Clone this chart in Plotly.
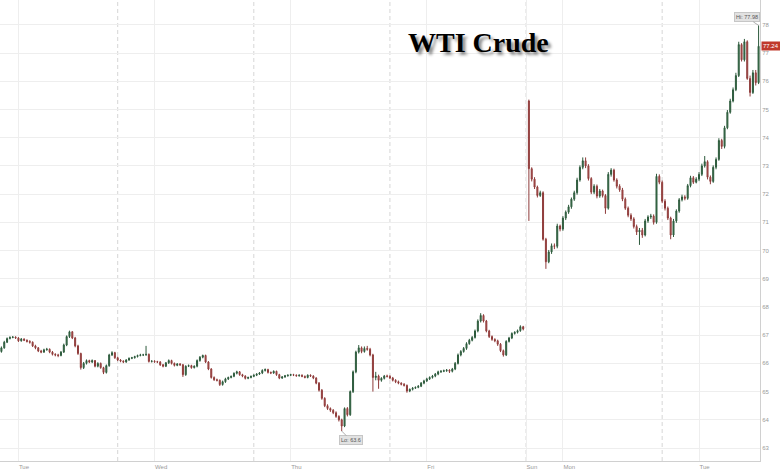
import pandas as pd
import plotly.graph_objects as go

# ---- data: 30-minute candles, session 1 (Mon 21:00 -> Fri 17:00) ----
s1_start = "2025-06-09 21:00"
s1_open = [
    66.42,66.55,66.75,66.88,66.92,66.93,66.90,66.80,66.86,66.82,
    66.78,66.75,66.62,66.55,66.44,66.40,66.48,66.50,66.40,66.32,
    66.30,66.28,66.40,66.65,66.95,67.12,66.90,66.62,66.35,65.85,
    66.00,66.10,66.05,66.10,65.90,66.00,65.85,65.68,65.92,66.30,
    66.38,66.20,66.12,66.08,66.05,66.12,66.18,66.20,66.24,66.28,
    66.30,66.30,66.32,66.07,66.08,66.06,66.05,65.95,65.90,66.02,
    66.10,66.00,65.93,65.98,65.95,65.60,65.90,65.92,65.85,65.90,
    66.10,66.22,66.28,66.05,65.80,65.50,65.42,65.40,65.25,65.35,
    65.45,65.50,65.54,65.65,65.70,65.60,65.55,65.47,65.50,65.54,
    65.58,65.62,65.66,65.75,65.78,65.68,65.66,65.72,65.60,65.48,
    65.52,65.56,65.58,65.60,65.58,65.56,65.58,65.54,65.50,65.58,
    65.55,65.48,65.30,65.05,64.76,64.50,64.40,64.34,64.25,64.12,
    64.00,63.78,64.40,64.18,65.00,65.70,66.40,66.55,66.42,66.53,
    66.50,66.30,65.50,65.55,65.40,65.47,65.55,65.54,65.48,65.40,
    65.35,65.30,65.26,65.22,65.02,65.08,65.12,65.15,65.19,65.30,
    65.38,65.45,65.50,65.55,65.62,65.70,65.72,65.74,65.76,65.72,
    65.80,66.00,66.30,66.42,66.53,66.70,66.82,66.92,67.15,67.50,
    67.70,67.50,67.15,66.95,66.85,66.80,66.68,66.45,66.30,66.78,
    66.90,67.06,67.10,67.16,67.30]
s1_high = [
    66.60,66.80,66.92,66.96,66.97,66.96,66.93,66.90,66.89,66.85,
    66.82,66.78,66.66,66.58,66.48,66.52,66.55,66.53,66.44,66.36,
    66.34,66.44,66.70,66.99,67.16,67.14,66.94,66.66,66.38,66.05,
    66.14,66.13,66.14,66.12,66.04,66.03,65.88,65.96,66.34,66.43,
    66.41,66.24,66.15,66.11,66.15,66.21,66.23,66.27,66.31,66.34,
    66.34,66.62,66.35,66.11,66.11,66.09,66.08,65.98,66.05,66.14,
    66.13,66.03,66.01,66.01,65.98,65.93,65.96,65.95,65.93,66.14,
    66.26,66.31,66.31,66.08,65.83,65.54,65.46,65.43,65.39,65.49,
    65.53,65.57,65.68,65.74,65.73,65.63,65.58,65.53,65.57,65.61,
    65.65,65.69,65.79,65.82,65.81,65.71,65.75,65.74,65.63,65.55,
    65.59,65.61,65.63,65.63,65.61,65.61,65.61,65.57,65.61,65.61,
    65.58,65.51,65.34,65.09,64.80,64.55,64.44,64.38,64.30,64.16,
    64.04,64.44,64.45,65.04,65.75,66.45,66.65,66.60,66.60,66.62,
    66.55,66.34,65.70,65.60,65.51,65.59,65.60,65.58,65.52,65.44,
    65.39,65.33,65.30,65.25,65.11,65.16,65.18,65.23,65.34,65.42,
    65.49,65.54,65.59,65.66,65.74,65.76,65.78,65.80,65.79,65.84,
    66.05,66.35,66.47,66.58,66.75,66.87,66.97,67.20,67.56,67.78,
    67.74,67.54,67.19,66.99,66.89,66.84,66.72,66.49,66.82,66.94,
    67.10,67.14,67.20,67.35,67.33]
s1_low = [
    66.38,66.52,66.72,66.85,66.89,66.87,66.76,66.77,66.79,66.74,
    66.70,66.58,66.50,66.40,66.36,66.37,66.45,66.36,66.28,66.25,
    66.22,66.25,66.37,66.61,66.90,66.86,66.57,66.30,65.78,65.80,
    65.96,66.01,66.01,65.86,65.86,65.81,65.62,65.64,65.88,66.26,
    66.16,66.08,66.04,66.01,66.02,66.09,66.15,66.17,66.21,66.25,
    66.26,66.27,66.03,66.03,66.02,66.01,65.91,65.86,65.87,65.98,
    65.96,65.89,65.90,65.91,65.52,65.56,65.87,65.81,65.82,65.86,
    66.06,66.18,66.01,65.76,65.46,65.38,65.36,65.20,65.21,65.31,
    65.41,65.47,65.51,65.61,65.56,65.51,65.43,65.44,65.47,65.51,
    65.55,65.59,65.62,65.71,65.64,65.62,65.63,65.56,65.44,65.45,
    65.49,65.53,65.55,65.55,65.53,65.53,65.51,65.47,65.47,65.52,
    65.44,65.26,65.00,64.71,64.45,64.35,64.28,64.20,64.07,63.94,
    63.60,63.74,64.12,64.14,64.95,65.65,66.35,66.36,66.38,66.45,
    66.25,65.00,65.40,65.10,65.35,65.43,65.50,65.44,65.36,65.30,
    65.26,65.22,65.18,64.96,64.98,65.04,65.10,65.12,65.16,65.26,
    65.34,65.41,65.46,65.51,65.58,65.66,65.69,65.70,65.66,65.68,
    65.76,65.96,66.25,66.38,66.48,66.66,66.78,66.88,67.10,67.45,
    67.45,67.10,66.90,66.80,66.75,66.62,66.40,66.24,66.26,66.74,
    66.86,67.02,67.06,67.12,67.17]
s1_close = [
    66.55,66.75,66.88,66.92,66.93,66.90,66.80,66.86,66.82,66.78,
    66.75,66.62,66.55,66.44,66.40,66.48,66.50,66.40,66.32,66.30,
    66.28,66.40,66.65,66.95,67.12,66.90,66.62,66.35,65.85,66.00,
    66.10,66.05,66.10,65.90,66.00,65.85,65.68,65.92,66.30,66.38,
    66.20,66.12,66.08,66.05,66.12,66.18,66.20,66.24,66.28,66.30,
    66.30,66.32,66.07,66.08,66.06,66.05,65.95,65.90,66.02,66.10,
    66.00,65.93,65.98,65.95,65.60,65.90,65.92,65.85,65.90,66.10,
    66.22,66.28,66.05,65.80,65.50,65.42,65.40,65.25,65.35,65.45,
    65.50,65.54,65.65,65.70,65.60,65.55,65.47,65.50,65.54,65.58,
    65.62,65.66,65.75,65.78,65.68,65.66,65.72,65.60,65.48,65.52,
    65.56,65.58,65.60,65.58,65.56,65.58,65.54,65.50,65.58,65.55,
    65.48,65.30,65.05,64.76,64.50,64.40,64.34,64.25,64.12,64.00,
    63.78,64.40,64.18,65.00,65.70,66.40,66.55,66.42,66.53,66.50,
    66.30,65.50,65.55,65.40,65.47,65.55,65.54,65.48,65.40,65.35,
    65.30,65.26,65.22,65.02,65.08,65.12,65.15,65.19,65.30,65.38,
    65.45,65.50,65.55,65.62,65.70,65.72,65.74,65.76,65.72,65.80,
    66.00,66.30,66.42,66.53,66.70,66.82,66.92,67.15,67.50,67.70,
    67.50,67.15,66.95,66.85,66.80,66.68,66.45,66.30,66.78,66.90,
    67.06,67.10,67.16,67.30,67.22]

# ---- session 2 (Sun 18:00 -> Tue 10:30) ----
s2_start = "2025-06-15 18:00"
s2_open = [
    75.30,72.90,72.53,72.25,71.95,72.05,70.40,69.60,69.95,70.17,
    70.15,70.87,70.76,71.15,71.36,71.55,71.82,72.05,72.50,72.95,
    73.18,73.00,72.55,72.07,72.28,71.93,72.11,71.95,71.50,72.70,
    72.85,72.50,72.28,72.15,71.82,71.50,71.25,71.12,70.85,70.66,
    70.72,70.55,71.05,71.19,71.22,71.00,72.63,72.42,71.75,71.50,
    71.15,70.55,71.05,71.40,71.80,71.90,71.85,72.30,72.58,72.42,
    72.53,72.70,73.00,73.15,72.60,72.45,72.95,73.23,73.90,73.69,
    74.35,74.90,75.30,75.70,76.20,77.30,76.76,77.40,76.10,75.60,76.30,75.95]
s2_high = [
    75.35,72.95,72.60,72.30,72.12,72.10,70.45,70.02,70.25,70.25,
    70.95,70.92,71.22,71.42,71.62,71.88,72.12,72.58,73.02,73.30,
    73.30,73.06,72.60,72.35,72.34,72.18,72.16,72.00,72.78,72.92,
    72.90,72.56,72.35,72.22,71.88,71.56,71.32,71.18,70.92,70.80,
    70.80,71.12,71.25,71.30,71.28,72.72,72.70,72.48,71.82,71.56,
    71.20,71.12,71.46,71.86,71.98,71.96,72.36,72.65,72.64,72.60,
    72.78,73.08,73.35,73.20,72.66,73.02,73.30,73.98,73.96,74.42,
    74.98,75.38,75.78,76.30,77.40,77.35,77.50,77.45,76.20,76.40,76.40,77.98]
s2_low = [
    71.05,72.45,72.18,71.88,71.90,70.35,69.35,69.55,69.88,70.05,
    70.08,70.68,70.70,71.08,71.30,71.48,71.76,71.98,72.44,72.88,
    72.92,72.48,72.00,72.00,71.85,71.87,71.88,71.30,71.45,72.62,
    72.44,72.20,72.08,71.75,71.44,71.18,71.05,70.78,70.55,70.20,
    70.45,70.50,70.98,71.12,70.92,70.95,72.35,71.68,71.42,71.08,
    70.40,70.48,70.98,71.34,71.74,71.78,71.80,72.24,72.36,72.38,
    72.46,72.64,72.94,72.52,72.35,72.40,72.88,73.18,73.60,73.62,
    74.30,74.85,75.25,75.65,76.15,76.70,76.70,76.05,75.46,75.55,75.85,75.90]
s2_close = [
    72.90,72.53,72.25,71.95,72.05,70.40,69.60,69.95,70.17,70.15,
    70.87,70.76,71.15,71.36,71.55,71.82,72.05,72.50,72.95,73.18,
    73.00,72.55,72.07,72.28,71.93,72.11,71.95,71.50,72.70,72.85,
    72.50,72.28,72.15,71.82,71.50,71.25,71.12,70.85,70.66,70.72,
    70.55,71.05,71.19,71.22,71.00,72.63,72.42,71.75,71.50,71.15,
    70.55,71.05,71.40,71.80,71.90,71.85,72.30,72.58,72.42,72.53,
    72.70,73.00,73.15,72.60,72.45,72.95,73.23,73.90,73.69,74.35,
    74.90,75.30,75.70,76.20,77.30,76.76,77.40,76.10,75.60,76.30,75.95,77.24]

y_ticks = list(range(63, 79))
day_ticks = ["2025-06-10", "2025-06-11", "2025-06-12", "2025-06-13", "2025-06-15 17:30", "2025-06-16", "2025-06-17"]
day_labels = ["Tue", "Wed", "Thu", "Fri", "Sun", "Mon", "Tue"]
session_lines = ["2025-06-10 17:30", "2025-06-11 17:30", "2025-06-12 17:30", "2025-06-15 17:30", "2025-06-16 17:30"]
weekend_gap = ["2025-06-13 17:30", "2025-06-15 17:30"]
hi_val, hi_time = 77.98, "2025-06-17 10:30"
lo_val, lo_time = 63.6, "2025-06-12 09:00"
last_val = 77.24

x1 = pd.date_range(s1_start, periods=len(s1_close), freq="30min")
x2 = pd.date_range(s2_start, periods=len(s2_close), freq="30min")
x = list(x1) + list(x2)

fig = go.Figure(go.Candlestick(
    x=x, open=s1_open + s2_open, high=s1_high + s2_high,
    low=s1_low + s2_low, close=s1_close + s2_close,
    increasing=dict(fillcolor="#3f7f55", line=dict(color="#2d5a3c", width=1)),
    decreasing=dict(fillcolor="#c65a58", line=dict(color="#8e3b3a", width=1)),
    whiskerwidth=0, showlegend=False,
))

for t in session_lines:
    fig.add_vline(x=t, line=dict(color="#d6d6d6", width=1, dash="4px,3px"), layer="below")

fig.update_layout(
    width=780, height=470,
    margin=dict(l=0, r=20, t=0, b=7),
    paper_bgcolor="white", plot_bgcolor="white",
    boxgap=0.5,
    font=dict(family="Liberation Sans, Arial, sans-serif", color="#999"),
    xaxis=dict(
        rangeslider=dict(visible=False),
        rangebreaks=[dict(bounds=weekend_gap)],
        range=["2025-06-09 20:45", "2025-06-17 10:45"],
        tickvals=day_ticks, ticktext=day_labels,
        ticklabelposition="outside right",
        tickfont=dict(size=6, color="#999999"),
        showgrid=True, gridcolor="#eeeeee", gridwidth=1,
        showline=True, linecolor="#d0d0d0", linewidth=1,
        ticks="", zeroline=False,
    ),
    yaxis=dict(
        side="right", range=[62.54, 78.88],
        tickvals=y_ticks, ticktext=[str(v) for v in y_ticks],
        tickfont=dict(size=6, color="#999999"),
        showgrid=True, gridcolor="#eeeeee", gridwidth=1,
        showline=True, linecolor="#d0d0d0", linewidth=1,
        ticks="", zeroline=False,
    ),
)

fig.add_annotation(
    text="WTI Crude", xref="paper", yref="paper", x=0.629, y=0.907,
    showarrow=False, xanchor="center", yanchor="middle",
    font=dict(family="Liberation Serif, Times New Roman, serif", size=28, color="#000000",
              weight="bold", shadow="3px 3px 3px rgba(0,0,0,0.45)"),
)
fig.add_annotation(
    text="Hi: %.2f" % hi_val, x=hi_time, y=hi_val, xref="x", yref="y",
    showarrow=True, arrowhead=0, arrowwidth=0.8, arrowcolor="#999",
    ax=-12, ay=-8, font=dict(size=5.5, color="#555"),
    bgcolor="#e2e2e2", bordercolor="#c6c6c6", borderwidth=1, borderpad=1,
)
fig.add_annotation(
    text="Lo: %.1f" % lo_val, x=lo_time, y=lo_val, xref="x", yref="y",
    showarrow=True, arrowhead=0, arrowwidth=0.8, arrowcolor="#999",
    ax=9, ay=9, font=dict(size=5.5, color="#555"),
    bgcolor="#e2e2e2", bordercolor="#c6c6c6", borderwidth=1, borderpad=1,
)
fig.add_annotation(
    text="%.2f" % last_val, xref="paper", yref="y", x=1, y=last_val,
    xanchor="left", yanchor="middle", xshift=1, showarrow=False,
    font=dict(size=6, color="white"), bgcolor="#c0392b", borderpad=1,
)

fig.write_html("out.html", config={"displayModeBar": False},
               post_script="document.body.style.margin='0';")
